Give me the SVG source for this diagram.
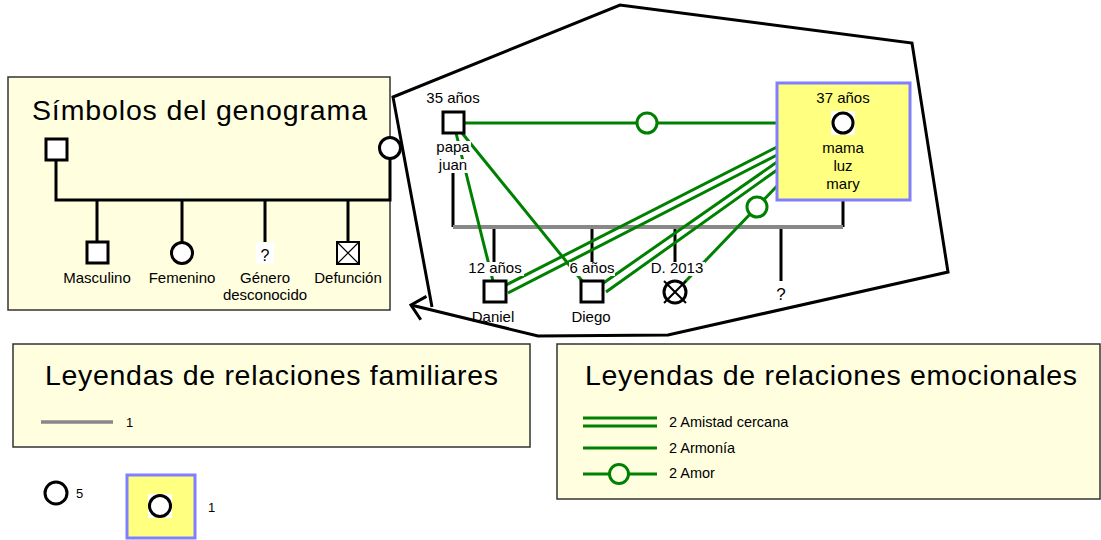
<svg xmlns="http://www.w3.org/2000/svg" width="1101" height="540" viewBox="0 0 1101 540">
<style>
text{font-family:"Liberation Sans",Arial,sans-serif;fill:#000}
.t{font-size:15px;text-anchor:middle}
.ttl{font-size:28.5px}
.lg{font-size:14.5px}
.sm{font-size:13px}
.box{fill:#FFFFE0;stroke:#333;stroke-width:1.5}
.blk{stroke:#000;stroke-width:3;fill:none}
.sym{fill:#fff;stroke:#000;stroke-width:3}
.gray{stroke:#888;stroke-width:4;fill:none}
.grn{stroke:#008000;stroke-width:3;fill:none}
.gc{stroke:#008000;stroke-width:3;fill:#fff}
.wb{fill:#fff}
.sel{fill:#FFFF80;stroke:#8080FF;stroke-width:3}
</style>
<defs>
<marker id="open" markerUnits="userSpaceOnUse" markerWidth="30" markerHeight="30" viewBox="-15 -15 30 30" refX="0" refY="0" orient="auto">
<path d="M -13,-12 L 0,0 L -13,12" fill="none" stroke="#000" stroke-width="3"/>
</marker>
</defs>

<g id="legend-symbols">
<rect class="box" x="8" y="77" width="382" height="233"/>
<text class="ttl" x="32" y="120" textLength="335" lengthAdjust="spacing">Símbolos del genograma</text>
<path class="blk" d="M56,160 V200 H390 V159 M97,200 V242 M182,200 V242 M265,200 V242 M348,200 V242"/>
<rect class="sym" x="46" y="139" width="21" height="21"/>
<circle class="sym" cx="390" cy="148" r="10.5"/>
<rect class="sym" x="87" y="242" width="21" height="21"/>
<circle class="sym" cx="182" cy="253" r="10.5"/>
<rect class="wb" x="256" y="242" width="18" height="22"/>
<text class="t" x="265" y="261" style="font-size:16px">?</text>
<rect x="337" y="242" width="22" height="22" fill="#fff" stroke="#000" stroke-width="2"/>
<path d="M337,242 L359,264 M359,242 L337,264" stroke="#000" stroke-width="1.2"/>
<text class="t" x="97" y="283">Masculino</text>
<text class="t" x="182" y="283">Femenino</text>
<text class="t" x="265" y="283">Género</text>
<text class="t" x="265" y="300">desconocido</text>
<text class="t" x="348" y="283">Defunción</text>
</g>

<g id="outline">
<path class="blk" d="M432,307 L393,97 L620,5 L912,43 L948,272 L668,335 L538,336 L411,305" marker-end="url(#open)"/>
</g>

<g id="connectors">
<path class="blk" d="M453,173 V227 M843,200 V227 M494,229 V262 M592,229 V262 M675,229 V262 M781,229 V281"/>
<path class="gray" d="M453,227 H843"/>
<path class="grn" d="M456,133 L493,281"/>
<path class="grn" d="M462,133 L583,282"/>
<path class="grn" d="M777,147 L506,285 M777,155 L508,293"/>
<path class="grn" d="M777,162 L602,284 M777,170 L606,292"/>
<path class="grn" d="M464,123 H777"/>
<circle class="gc" cx="647" cy="123" r="10"/>
<path class="grn" d="M778,185 L684,283"/>
<circle class="gc" cx="757" cy="207" r="10"/>
</g>

<g id="papa">
<rect class="sym" x="443" y="112" width="21" height="21"/>
<text class="t" x="453" y="103">35 años</text>
<rect class="wb" x="436" y="141" width="35" height="14"/>
<text class="t" x="453" y="152">papa</text>
<rect class="wb" x="437" y="159" width="32" height="14"/>
<text class="t" x="453" y="170">juan</text>
</g>

<g id="mama">
<rect class="sel" x="777" y="83" width="133" height="117"/>
<text class="t" x="843" y="103">37 años</text>
<rect class="wb" x="831" y="111" width="24" height="24"/>
<circle class="sym" cx="843" cy="123" r="10"/>
<text class="t" x="843" y="153">mama</text>
<text class="t" x="843" y="171">luz</text>
<text class="t" x="843" y="189">mary</text>
</g>

<g id="daniel">
<rect class="wb" x="466" y="262" width="58" height="14"/>
<text class="t" x="495" y="273">12 años</text>
<rect class="sym" x="484" y="281" width="22" height="21"/>
<text class="t" x="493" y="322">Daniel</text>
</g>

<g id="diego">
<rect class="wb" x="569" y="262" width="46" height="14"/>
<text class="t" x="592" y="273">6 años</text>
<rect class="sym" x="581" y="281" width="22" height="21"/>
<text class="t" x="591" y="322">Diego</text>
</g>

<g id="fallecido">
<rect class="wb" x="650" y="262" width="55" height="14"/>
<text class="t" x="677" y="273">D. 2013</text>
<circle class="sym" cx="675" cy="292" r="11"/>
<path d="M664,281 L686,303 M686,281 L664,303" stroke="#000" stroke-width="2"/>
</g>

<g id="desconocido">
<text class="t" x="781" y="300" style="font-size:17px">?</text>
</g>

<g id="legend-familiares">
<rect class="box" x="13" y="344" width="517" height="103"/>
<text class="ttl" x="45" y="385" textLength="453" lengthAdjust="spacing">Leyendas de relaciones familiares</text>
<path class="gray" style="stroke-width:3.5" d="M41,422 H113"/>
<text class="sm" x="126" y="427">1</text>
</g>

<g id="legend-emocionales">
<rect class="box" x="557" y="344" width="543" height="155"/>
<text class="ttl" x="585" y="385" textLength="492" lengthAdjust="spacing">Leyendas de relaciones emocionales</text>
<path class="grn" d="M583,418 H657 M583,426 H657"/>
<text class="lg" x="669" y="427">2 Amistad cercana</text>
<path class="grn" d="M583,448 H657"/>
<text class="lg" x="669" y="453">2 Armonía</text>
<path class="grn" d="M583,474 H657"/>
<circle class="gc" style="fill:#FFFFE0" cx="619" cy="474" r="9.5"/>
<text class="lg" x="669" y="478">2 Amor</text>
</g>

<g id="legend-counts">
<circle class="sym" cx="56" cy="493" r="11"/>
<text class="sm" x="76" y="498">5</text>
<rect class="sel" x="127" y="475" width="68" height="63"/>
<rect class="wb" x="148" y="494" width="24" height="24"/>
<circle class="sym" cx="160" cy="506" r="10.5"/>
<text class="sm" x="208" y="512">1</text>
</g>
</svg>
